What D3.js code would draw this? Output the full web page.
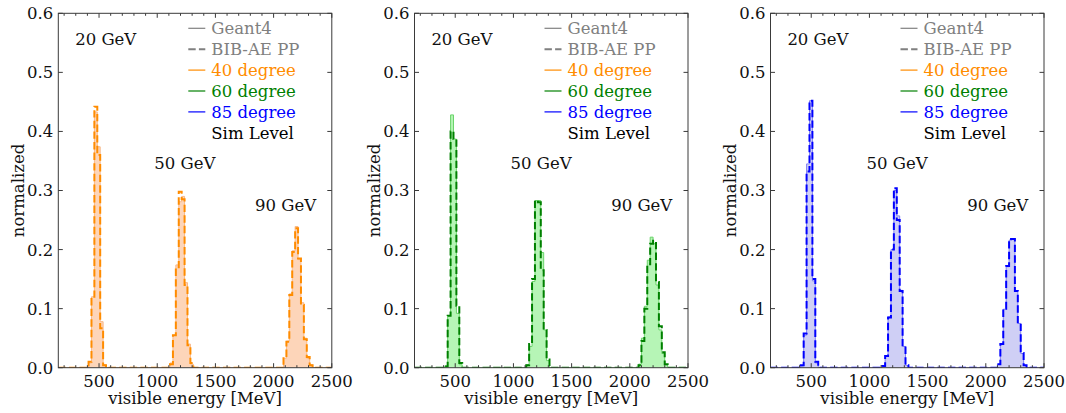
<!DOCTYPE html>
<html>
<head>
<meta charset="utf-8">
<script src="https://cdn.jsdelivr.net/npm/d3@7/dist/d3.min.js"></script>
<style>
  body { margin: 0; background: #fff; }
  text { font-family: "DejaVu Serif", serif; }
</style>
</head>
<body>
<svg id="chart" width="1066" height="413"></svg>
<script>
const binWidth = 25;
const xDomain = [150, 2500];
const xTicks = [500, 1000, 1500, 2000, 2500];
const yTicks = [0, 0.1, 0.2, 0.3, 0.4, 0.5, 0.6];

const energyLabels = ["20 GeV", "50 GeV", "90 GeV"];
const energyX = [295, 975, 1840];
const energyY = [0.547, 0.337, 0.2645];

const legendLabels = ["Geant4", "BIB-AE PP", "40 degree", "60 degree", "85 degree", "Sim Level"];

// each peak: first bin edge + normalized bin contents (25 MeV bins)
const geant40 = [
  { start: 410, values: [0.008, 0.12, 0.433, 0.374, 0.078, 0.005] },
  { start: 1110, values: [0.008, 0.055, 0.174, 0.281, 0.29, 0.144, 0.04, 0.006] },
  { start: 2085, values: [0.016, 0.045, 0.125, 0.198, 0.239, 0.183, 0.11, 0.05, 0.016, 0.005] }
];
const bib40 = [
  { start: 410, values: [0.01, 0.118, 0.442, 0.36, 0.067, 0.004] },
  { start: 1110, values: [0.006, 0.055, 0.17, 0.298, 0.285, 0.14, 0.038, 0.008] },
  { start: 2085, values: [0.016, 0.044, 0.123, 0.196, 0.236, 0.185, 0.106, 0.048, 0.018, 0.004] }
];
const geant60 = [
  { start: 410, values: [0.003, 0.088, 0.428, 0.387, 0.092, 0.005] },
  { start: 1110, values: [0.005, 0.036, 0.146, 0.283, 0.283, 0.195, 0.064, 0.012] },
  { start: 2075, values: [0.006, 0.05, 0.104, 0.182, 0.221, 0.21, 0.14, 0.064, 0.024, 0.005] }
];
const bib60 = [
  { start: 410, values: [0.002, 0.088, 0.4, 0.387, 0.105, 0.008] },
  { start: 1110, values: [0.004, 0.04, 0.15, 0.283, 0.28, 0.165, 0.064, 0.014] },
  { start: 2075, values: [0.004, 0.045, 0.1, 0.175, 0.21, 0.215, 0.145, 0.07, 0.026, 0.006] }
];
const geant85 = [
  { start: 410, values: [0.003, 0.055, 0.345, 0.452, 0.147, 0.008] },
  { start: 1110, values: [0.002, 0.019, 0.086, 0.2, 0.3, 0.257, 0.131, 0.036, 0.004] },
  { start: 2100, values: [0.006, 0.041, 0.099, 0.171, 0.216, 0.218, 0.129, 0.075, 0.024, 0.004] }
];
const bib85 = [
  { start: 410, values: [0.004, 0.058, 0.332, 0.452, 0.15, 0.01] },
  { start: 1110, values: [0.003, 0.02, 0.085, 0.2, 0.304, 0.25, 0.13, 0.036, 0.004] },
  { start: 2100, values: [0.006, 0.04, 0.1, 0.172, 0.218, 0.218, 0.13, 0.075, 0.025, 0.004] }
];

const panels = [
  { geant: geant40, bib: bib40, line: "#ff8c00", fill: "#fdd5b9", edge: "#f8b888" },
  { geant: geant60, bib: bib60, line: "#008000", fill: "#b6f5b6", edge: "#6ad46a" },
  { geant: geant85, bib: bib85, line: "#0000ff", fill: "#cfcff5", edge: "#8080f0" }
];
const legendColors = ["#808080", "#808080", "#ff8c00", "#008000", "#0000ff", "#000000"];

const svg = d3.select("#chart");
const lefts = [58.3, 414.5, 770.5];
const panelTop = 13.3, pw = 273.5, ph = 354.4;
const frameColor = "#3a3a3a";
const fs = 16.5;

const x = d3.scaleLinear().domain(xDomain).range([0, pw]);
const y = d3.scaleLinear().domain([0, 0.6]).range([ph, 0]);

function stepPoints(peaks) {
  const pts = [[xDomain[0], 0]];
  peaks.forEach(p => {
    p.values.forEach((v, i) => pts.push([p.start + i * binWidth, v]));
    pts.push([p.start + p.values.length * binWidth, 0]);
  });
  pts.push([xDomain[1], 0]);
  return pts;
}

const line = d3.line().x(d => x(d[0])).y(d => y(d[1])).curve(d3.curveStepAfter);
const area = d3.area().x(d => x(d[0])).y0(y(0)).y1(d => y(d[1])).curve(d3.curveStepAfter);

panels.forEach((p, k) => {
  const g = svg.append("g").attr("transform", `translate(${lefts[k]},${panelTop})`);

  g.append("clipPath").attr("id", "clip" + k)
    .append("rect").attr("width", pw).attr("height", ph);
  const plot = g.append("g").attr("clip-path", `url(#clip${k})`);

  const gPts = stepPoints(p.geant);
  plot.append("path").attr("d", area(gPts)).attr("fill", p.fill);
  plot.append("path").attr("d", line(gPts))
    .attr("fill", "none").attr("stroke", p.edge).attr("stroke-width", 1);
  plot.append("path").attr("d", line(stepPoints(p.bib)))
    .attr("fill", "none").attr("stroke", p.line).attr("stroke-width", 2)
    .attr("stroke-dasharray", "7.4,3.2");

  // frame
  g.append("rect").attr("width", pw).attr("height", ph)
    .attr("fill", "none").attr("stroke", frameColor).attr("stroke-width", 1);

  // ticks (inward)
  const minor = d3.range(200, 2501, 100).filter(v => v % 500 !== 0);
  minor.forEach(v => {
    g.append("line").attr("x1", x(v)).attr("x2", x(v)).attr("y1", ph).attr("y2", ph - 2.5).attr("stroke", frameColor);
    g.append("line").attr("x1", x(v)).attr("x2", x(v)).attr("y1", 0).attr("y2", 2.5).attr("stroke", frameColor);
  });
  xTicks.forEach(v => {
    g.append("line").attr("x1", x(v)).attr("x2", x(v)).attr("y1", ph).attr("y2", ph - 4.5).attr("stroke", frameColor);
    g.append("line").attr("x1", x(v)).attr("x2", x(v)).attr("y1", 0).attr("y2", 4.5).attr("stroke", frameColor);
    g.append("text").attr("x", x(v)).attr("y", ph + 19.3)
      .attr("text-anchor", "middle").attr("font-size", fs).attr("fill", "#111")
      .text(v);
  });
  yTicks.forEach(v => {
    g.append("line").attr("x1", 0).attr("x2", 4.5).attr("y1", y(v)).attr("y2", y(v)).attr("stroke", frameColor);
    g.append("line").attr("x1", pw).attr("x2", pw - 4.5).attr("y1", y(v)).attr("y2", y(v)).attr("stroke", frameColor);
    g.append("text").attr("x", -5).attr("y", y(v)).attr("dy", "0.36em")
      .attr("text-anchor", "end").attr("font-size", fs).attr("fill", "#111")
      .text(v.toFixed(1));
  });

  g.append("text").attr("x", pw / 2).attr("y", ph + 36.5)
    .attr("text-anchor", "middle").attr("font-size", fs).attr("fill", "#111")
    .text("visible energy [MeV]");
  g.append("text").attr("transform", `translate(-40,${ph / 2}) rotate(-90)`)
    .attr("dy", "0.35em").attr("text-anchor", "middle").attr("font-size", fs).attr("fill", "#111")
    .text("normalized");

  energyLabels.forEach((t, i) => {
    g.append("text").attr("x", x(energyX[i])).attr("y", y(energyY[i]))
      .attr("font-size", fs).attr("fill", "#111").text(t);
  });

  // legend
  legendLabels.forEach((t, i) => {
    const ly = 15 + i * 20.9;
    if (i < 5) {
      g.append("line").attr("x1", 130).attr("x2", 147).attr("y1", ly).attr("y2", ly)
        .attr("stroke", legendColors[i]).attr("stroke-width", i === 1 ? 2 : 1.2)
        .attr("stroke-dasharray", i === 1 ? "7.4,3.2" : null);
    }
    g.append("text").attr("x", 153).attr("y", ly).attr("dy", "0.36em")
      .attr("font-size", fs).attr("fill", legendColors[i]).text(t);
  });
});
</script>
</body>
</html>
